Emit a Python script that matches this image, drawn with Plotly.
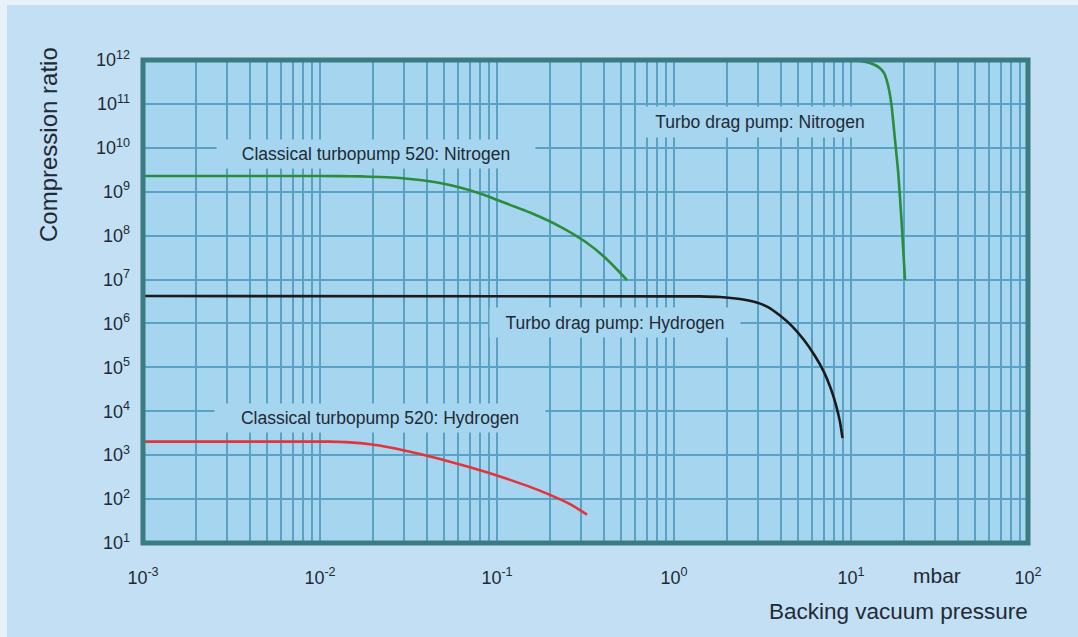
import plotly.graph_objects as go

# ---------------- data ----------------
classic_n2_p = [0.001, 0.007709, 0.01297, 0.016827, 0.02183, 0.028314, 0.036728, 0.047643, 0.061801,
                0.08017, 0.10398, 0.15365, 0.22702, 0.3142, 0.40749, 0.54267]
classic_n2_k = [2.278e9, 2.278e9, 2.266e9, 2.231e9, 2.162e9, 2.051e9, 1.847e9, 1.578e9, 1.246e9,
                9.10e8, 6.14e8, 3.36e8, 1.612e8, 7.34e7, 3.17e7, 9.74e6]

drag_n2_p = [10.53, 11.24, 12.47, 13.66, 14.58, 15.37, 15.91, 16.50, 16.98, 17.73, 18.50, 19.34, 20.19]
drag_n2_k = [1.0e12, 9.5e11, 8.77e11, 7.7e11, 6.47e11, 5.06e11, 3.50e11, 1.87e11, 8.63e10, 1.51e10,
             2.63e9, 1.91e8, 9.75e6]

drag_h2_p = [0.001, 1.4025, 1.8193, 2.3598, 2.8692, 3.3971, 3.9707, 4.6416, 5.426, 6.2603, 7.0392,
             7.7091, 8.2288, 8.668, 8.9546]
drag_h2_k = [4.209e6, 4.144e6, 3.994e6, 3.596e6, 3.073e6, 2.364e6, 1.514e6, 8.726e5, 4.187e5, 1.809e5,
             7.816e4, 3.203e4, 1.384e4, 5.675e3, 2.452e3]

classic_h2_p = [0.001, 0.011384, 0.014773, 0.019164, 0.02486, 0.03225, 0.041834, 0.054267, 0.070397,
                0.091322, 0.11845, 0.15365, 0.19929, 0.25851, 0.3225]
classic_h2_k = [2040, 2040, 1957, 1772, 1498, 1202, 934, 711, 530, 387, 274, 190, 125, 76.9, 44.4]

x_tickvals = [1e-3, 1e-2, 1e-1, 1e0, 1e1, 1e2]
x_ticktext = ["10<sup>-3</sup>", "10<sup>-2</sup>", "10<sup>-1</sup>", "10<sup>0</sup>",
              "10<sup>1</sup>", "10<sup>2</sup>"]
y_tickvals = [10.0 ** e for e in range(1, 13)]
y_ticktext = ["10<sup>%d</sup>" % e for e in range(1, 13)]

labels = ["Classical turbopump 520: Nitrogen", "Turbo drag pump: Nitrogen",
          "Turbo drag pump: Hydrogen", "Classical turbopump 520: Hydrogen"]

# ---------------- style ----------------
W, H = 1078, 637
L, R, T, B = 143, 50, 60, 94
PAPER = "#c2dff3"
PLOT = "#a6d5ef"
GRID = "#59a2c3"
FRAME = "#3a7c82"
TEXT = "#1e2a35"
GREEN = "#2a8c3c"
RED = "#e5333a"
BLACK = "#1b1b1b"
FONT = "Liberation Sans, Arial, sans-serif"

fig = go.Figure()
for xs, ys, col in [(classic_n2_p, classic_n2_k, GREEN), (drag_n2_p, drag_n2_k, GREEN),
                    (drag_h2_p, drag_h2_k, BLACK), (classic_h2_p, classic_h2_k, RED)]:
    fig.add_trace(go.Scatter(x=xs, y=ys, mode="lines",
                             line=dict(color=col, width=2.6, shape="spline", smoothing=0.6),
                             showlegend=False, hoverinfo="skip", cliponaxis=True))

pw, ph = W - L - R, H - T - B
def lx(px):  # pixel -> log10 x (label placement only)
    return -3 + (px - L) / pw * 5
def ly(py):
    return 12 - (py - T) / ph * 11
def xp(px):
    return (px - L) / pw
def yp(py):
    return (H - B - py) / ph

# curve labels with background boxes that interrupt the grid
label_pos = [(376, 154, 318, 28), (760, 122, 240, 30), (615, 322, 250, 29), (380, 418, 330, 28)]
for txt, (cx, cy, bw, bh) in zip(labels, label_pos):
    fig.add_annotation(x=lx(cx), y=ly(cy), xref="x", yref="y", text=txt, showarrow=False,
                       font=dict(family=FONT, size=17.5, color=TEXT), bgcolor=PLOT,
                       width=bw, height=bh, borderpad=0, xanchor="center", yanchor="middle")

# axis titles & unit
fig.add_annotation(x=xp(898), y=yp(611), xref="paper", yref="paper", text="Backing vacuum pressure",
                   showarrow=False, font=dict(family=FONT, size=22.5, color=TEXT), xanchor="center", yanchor="middle")
fig.add_annotation(x=xp(937), y=yp(575), xref="paper", yref="paper", text="mbar",
                   showarrow=False, font=dict(family=FONT, size=21, color=TEXT), xanchor="center", yanchor="middle")
fig.add_annotation(x=xp(48), y=yp(145), xref="paper", yref="paper", text="Compression ratio", textangle=-90,
                   showarrow=False, font=dict(family=FONT, size=24, color=TEXT), xanchor="center", yanchor="middle")

# thick frame around the plot area
fig.add_shape(type="rect", xref="paper", yref="paper", x0=0, x1=1, y0=0, y1=1,
              line=dict(color=FRAME, width=5), layer="above")
# scan paper edges
fig.add_shape(type="rect", xref="paper", yref="paper", x0=xp(0), x1=xp(W), y0=yp(0), y1=yp(5),
              line=dict(width=0), fillcolor="#e6f1f8", layer="below")
fig.add_shape(type="rect", xref="paper", yref="paper", x0=xp(0), x1=xp(7), y0=yp(0), y1=yp(H),
              line=dict(width=0), fillcolor="#e6f1f8", layer="below")

fig.update_layout(
    width=W, height=H, margin=dict(l=L, r=R, t=T, b=B, pad=0),
    paper_bgcolor=PAPER, plot_bgcolor=PLOT, showlegend=False,
    font=dict(family=FONT, size=17.5, color=TEXT),
)
fig.update_xaxes(type="log", range=[-3, 2], tickvals=x_tickvals, ticktext=x_ticktext,
                 showgrid=True, gridcolor=GRID, gridwidth=1.5, zeroline=False, showline=False,
                 ticks="", ticklabelstandoff=22, tickfont=dict(size=18, color=TEXT),
                 minor=dict(dtick="D1", showgrid=True, gridcolor=GRID, gridwidth=1.5, ticks=""))
fig.update_yaxes(type="log", range=[1, 12], tickvals=y_tickvals, ticktext=y_ticktext,
                 showgrid=True, gridcolor=GRID, gridwidth=1.5, zeroline=False, showline=False,
                 ticks="", ticklabelstandoff=12, tickfont=dict(size=18, color=TEXT))

fig.write_html("out.html")
